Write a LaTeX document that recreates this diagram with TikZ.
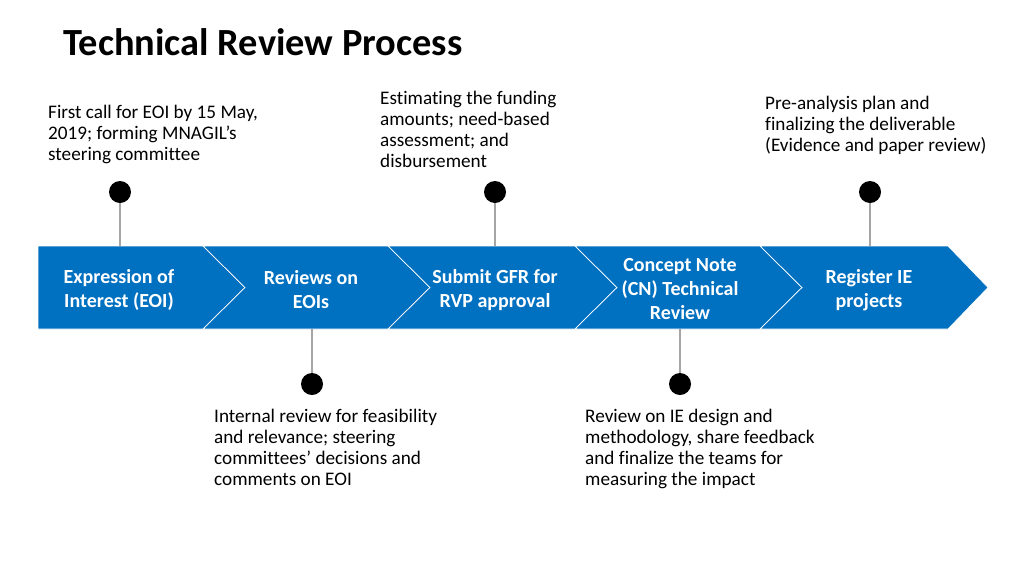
\documentclass[tikz,border=0pt]{standalone}
\usepackage{fontspec}
\setmainfont{Carlito}[Ligatures=NoCommon]
\usepackage{tikz}

\definecolor{bandblue}{RGB}{0,112,192}
\definecolor{stemgray}{RGB}{165,165,165}

\tikzset{
  stage/.style={fill=bandblue, draw=white, line width=0.7pt},
  stagetext/.style={text=white, font=\fontsize{20}{24}\selectfont\bfseries, align=center},
  note/.style={anchor=north west, inner sep=0pt, align=left, font=\fontsize{19.2}{21}\selectfont},
  dot/.style={circle, fill=black, inner sep=0pt, minimum size=22pt},
  stem/.style={draw=stemgray, line width=1.3pt}
}

\begin{document}
\begin{tikzpicture}[x=1pt, y=-1pt]
    \useasboundingbox (0,0) rectangle (1024,576);

    %title
    \node[anchor=west, inner sep=0pt, font=\fontsize{38.4}{44}\selectfont\bfseries] (title) at (63,42) {Technical Review Process};

    %chevron band
    \path[stage] (38,246) -- (203,246) -- (245,287.5) -- (203,329) -- (38,329) -- cycle;
    \path[stage] (203,246) -- (388,246) -- (430,287.5) -- (388,329) -- (203,329) -- (245,287.5) -- cycle;
    \path[stage] (388,246) -- (575,246) -- (617,287.5) -- (575,329) -- (388,329) -- (430,287.5) -- cycle;
    \path[stage] (575,246) -- (760,246) -- (802,287.5) -- (760,329) -- (575,329) -- (617,287.5) -- cycle;
    \path[stage] (760,246) -- (948,246) -- (988,287.5) -- (948,329) -- (760,329) -- (802,287.5) -- cycle;

    \node[stagetext] (EOI) at (119,290) {Expression of\\Interest (EOI)};
    \node[stagetext] (REV) at (311,290) {Reviews on\\EOIs};
    \node[stagetext] (GFR) at (495,290) {Submit GFR for\\RVP approval};
    \node[stagetext] (CN) at (680,289) {Concept Note\\(CN) Technical\\Review};
    \node[stagetext] (REG) at (869,290) {Register IE\\projects};

    %band edges under the stems
    \coordinate (topA) at (120,246);
    \coordinate (topB) at (495,246);
    \coordinate (topC) at (870,246);
    \coordinate (botA) at (312,329);
    \coordinate (botB) at (680,329);

    %milestones above
    \node[dot] (dotA) at (120,192) {};
    \node[dot] (dotB) at (495,192) {};
    \node[dot] (dotC) at (870,192) {};
    \path[stem] (dotA)--(topA);
    \path[stem] (dotB)--(topB);
    \path[stem] (dotC)--(topC);

    %milestones below
    \node[dot] (dotD) at (312,384) {};
    \node[dot] (dotE) at (680,384) {};
    \path[stem] (botA)--(dotD);
    \path[stem] (botB)--(dotE);

    %notes
    \node[note] (noteA) at (48,104.6) {First call for EOI by 15 May,\\2019; forming MNAGIL’s\\steering committee};
    \node[note] (noteB) at (380,90.6) {Estimating the funding\\amounts; need-based\\assessment; and\\disbursement};
    \node[note] (noteC) at (765,95.6) {Pre-analysis plan and\\finalizing the deliverable\\(Evidence and paper review)};
    \node[note] (noteD) at (214,408.6) {Internal review for feasibility\\and relevance; steering\\committees’ decisions and\\comments on EOI};
    \node[note] (noteE) at (585,408.6) {Review on IE design and\\methodology, share feedback\\and finalize the teams for\\measuring the impact};
\end{tikzpicture}
\end{document}
